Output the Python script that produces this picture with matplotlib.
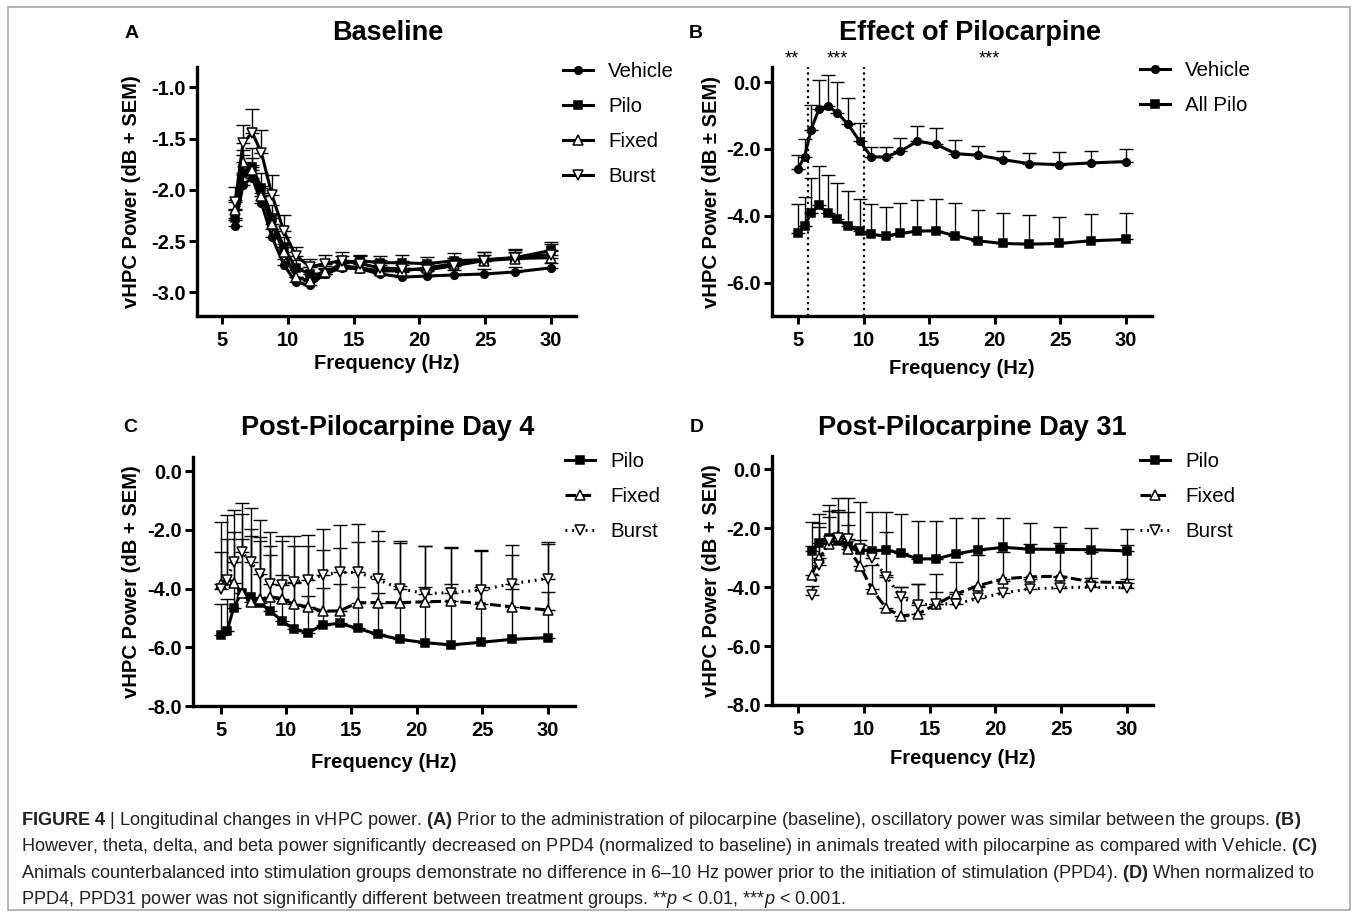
import numpy as np
import matplotlib
matplotlib.use("Agg")
import matplotlib.pyplot as plt
from matplotlib.patches import Rectangle

plt.rcParams['font.family'] = ['Liberation Sans', 'DejaVu Sans']
plt.rcParams['axes.unicode_minus'] = False
plt.rcParams['mathtext.fontset'] = 'custom'
plt.rcParams['mathtext.rm'] = 'Liberation Sans'
plt.rcParams['mathtext.bf'] = 'Liberation Sans:bold'
plt.rcParams['mathtext.it'] = 'Liberation Sans:italic'

# frequency bins (Hz)
freq = [5.0, 5.5, 6.0, 6.6, 7.3, 8.0, 8.8, 9.7, 10.6, 11.7, 12.8, 14.1,
        15.5, 17.0, 18.7, 20.6, 22.6, 24.9, 27.3, 30.0]
freq_6 = freq[2:]   # baseline and day 31 start at 6 Hz

# A - Baseline
a_vehicle = [-2.35, -1.95, -1.88, -2.13, -2.46, -2.73, -2.90, -2.93, -2.82, -2.76,
             -2.77, -2.82, -2.85, -2.84, -2.83, -2.82, -2.80, -2.76]
a_vehicle_sem = [0.06, 0.10, 0.12, 0.10, 0.08, 0.06, 0.05, 0.05, 0.05, 0.05,
                 0.05, 0.05, 0.05, 0.05, 0.05, 0.05, 0.05, 0.05]
a_pilo = [-2.27, -1.83, -1.78, -1.98, -2.27, -2.56, -2.76, -2.82, -2.82, -2.71,
          -2.69, -2.71, -2.71, -2.72, -2.69, -2.68, -2.66, -2.59]
a_pilo_sem = [0.08, 0.17, 0.19, 0.15, 0.12, 0.10, 0.08, 0.07, 0.06, 0.07,
              0.06, 0.07, 0.08, 0.07, 0.07, 0.07, 0.07, 0.08]
a_fixed = [-2.20, -1.73, -1.81, -2.06, -2.33, -2.61, -2.85, -2.89, -2.80, -2.74,
           -2.76, -2.79, -2.79, -2.76, -2.72, -2.69, -2.67, -2.66]
a_fixed_sem = [0.10, 0.12, 0.12, 0.10, 0.10, 0.08, 0.07, 0.07, 0.06, 0.06,
               0.06, 0.06, 0.06, 0.06, 0.06, 0.06, 0.06, 0.06]
a_burst = [-2.12, -1.54, -1.44, -1.64, -2.05, -2.40, -2.64, -2.75, -2.72, -2.69,
           -2.72, -2.76, -2.77, -2.78, -2.74, -2.69, -2.66, -2.63]
a_burst_sem = [0.15, 0.17, 0.23, 0.23, 0.20, 0.16, 0.08, 0.08, 0.09, 0.08,
               0.08, 0.08, 0.08, 0.08, 0.08, 0.08, 0.08, 0.10]

# B - Effect of pilocarpine
b_vehicle = [-2.59, -2.24, -1.42, -0.81, -0.73, -0.92, -1.26, -1.77, -2.24, -2.24,
             -2.07, -1.77, -1.86, -2.14, -2.19, -2.32, -2.44, -2.47, -2.42, -2.38]
b_vehicle_sem = [0.40, 0.53, 0.74, 0.86, 0.95, 0.92, 0.79, 0.55, 0.30, 0.30,
                 0.40, 0.46, 0.49, 0.42, 0.28, 0.26, 0.32, 0.37, 0.36, 0.38]
b_pilo = [-4.51, -4.31, -3.91, -3.69, -3.93, -4.11, -4.31, -4.46, -4.56, -4.61,
          -4.53, -4.46, -4.45, -4.60, -4.75, -4.83, -4.85, -4.83, -4.75, -4.71]
b_pilo_sem = [0.85, 0.88, 1.05, 1.17, 1.16, 1.10, 1.05, 0.95, 0.90, 0.88,
              0.92, 0.93, 0.95, 0.97, 0.92, 0.90, 0.86, 0.80, 0.79, 0.80]
b_bands = [5.8, 10.0]
b_stars = ["**", "***", "***"]
b_star_x = [4.5, 8.0, 19.6]

# C - Post-pilocarpine day 4
c_pilo = [-5.59, -5.45, -4.65, -4.14, -4.28, -4.48, -4.77, -5.10, -5.39, -5.50,
          -5.24, -5.19, -5.36, -5.56, -5.73, -5.84, -5.92, -5.83, -5.73, -5.67]
c_pilo_sem = [1.08, 1.11, 3.31, 3.05, 3.03, 2.83, 2.70, 2.88, 3.17, 3.31,
              3.28, 3.34, 3.57, 3.52, 3.34, 3.28, 3.34, 3.13, 3.20, 3.20]
c_fixed = [-3.83, -3.71, -3.80, -4.15, -4.45, -4.37, -4.28, -4.34, -4.54, -4.62,
           -4.77, -4.76, -4.48, -4.48, -4.48, -4.45, -4.43, -4.51, -4.62, -4.73]
c_fixed_sem = [1.09, 1.39, 0.70, 1.84, 2.24, 2.00, 1.43, 0.81, 0.72, 0.37,
               0.78, 0.92, 0.53, 0.32, 0.55, 0.50, 0.60, 0.55, 0.60, 0.60]
c_burst = [-4.00, -3.71, -3.09, -2.75, -3.09, -3.49, -3.83, -3.88, -3.77, -3.71,
           -3.54, -3.45, -3.45, -3.69, -4.00, -4.17, -4.14, -4.05, -3.83, -3.66]
c_burst_sem = [2.26, 2.22, 1.00, 1.29, 1.11, 1.23, 1.28, 1.50, 1.22, 1.16,
               0.86, 0.82, 1.02, 1.32, 1.54, 1.61, 1.52, 1.33, 0.96, 1.23]

# D - Post-pilocarpine day 31
d_pilo = [-2.77, -2.49, -2.34, -2.45, -2.60, -2.74, -2.77, -2.74, -2.85, -3.04,
          -3.04, -2.87, -2.74, -2.65, -2.71, -2.72, -2.73, -2.77]
d_pilo_sem = [0.99, 0.97, 1.13, 1.49, 1.64, 1.62, 1.33, 1.30, 1.32, 1.30,
              1.30, 1.23, 1.10, 1.01, 0.88, 0.77, 0.73, 0.73]
d_fixed = [-3.59, -3.02, -2.55, -2.26, -2.71, -3.28, -4.07, -4.72, -4.98, -4.91,
           -4.58, -4.23, -3.95, -3.72, -3.65, -3.63, -3.82, -3.85]
d_fixed_sem = [0.99, 1.05, 0.92, 0.88, 1.27, 0.71, 0.82, 1.13, 1.00, 1.01,
               1.02, 1.07, 1.05, 0.90, 1.10, 1.12, 1.00, 1.28]
d_burst = [-4.26, -3.25, -2.45, -2.34, -2.36, -2.71, -3.02, -3.64, -4.34, -4.60,
           -4.57, -4.57, -4.38, -4.20, -4.06, -4.02, -4.00, -4.02]
d_burst_sem = [0.30, 1.42, 1.05, 0.90, 0.47, 0.30, 0.30, 1.50, 0.36, 0.70,
               0.40, 0.40, 0.40, 0.40, 0.35, 0.35, 0.30, 0.30]

W, H = 1358, 916
fig = plt.figure(figsize=(W / 100, H / 100), dpi=100)


def px_axes(l, t, r, b):
    return fig.add_axes([l / W, 1 - b / H, (r - l) / W, (b - t) / H])


STYLES = {
    'Vehicle': dict(marker='o', ms=5.5, mfc='black', ls='-'),
    'Pilo': dict(marker='s', ms=5.5, mfc='black', ls='-'),
    'All Pilo': dict(marker='s', ms=5.5, mfc='black', ls='-'),
    'Fixed': dict(marker='^', ms=7.5, mfc='white', ls='-'),
    'Burst': dict(marker='v', ms=7.5, mfc='white', ls='-'),
}


def series(ax, x, y, sem, name, ls=None):
    st = dict(STYLES[name])
    if ls is not None:
        st['ls'] = ls
    ax.errorbar(x, y, yerr=[np.zeros(len(sem)), sem], fmt='none', ecolor='black',
                elinewidth=1.0, capsize=5, capthick=1.0, zorder=2)
    ax.plot(x, y, color='black', lw=2.2, mec='black', mew=1.1, label=name,
            zorder=3, **st)


def style_axes(ax, xlim, ylim, yticks, ylabel, xlab_y, ylab_x):
    ax.set_xlim(*xlim)
    ax.set_ylim(*ylim)
    for s in ['top', 'right']:
        ax.spines[s].set_visible(False)
    for s in ['left', 'bottom']:
        ax.spines[s].set_linewidth(2.4)
    ax.set_xticks([5, 10, 15, 20, 25, 30])
    ax.set_yticks(yticks)
    ax.set_yticklabels([f"{v:.1f}" for v in yticks])
    ax.tick_params(width=2.2, length=6, labelsize=14.5)
    ax.tick_params(axis='x', pad=5)
    ax.tick_params(axis='y', pad=2)
    for lab in ax.get_xticklabels() + ax.get_yticklabels():
        lab.set_fontweight('bold')
    ax.set_xlabel("Frequency (Hz)", fontsize=14.5, fontweight='bold')
    ax.set_ylabel(ylabel, fontsize=14.5, fontweight='bold')
    ax.xaxis.set_label_coords(0.5, xlab_y)
    ax.yaxis.set_label_coords(ylab_x, 0.5)


def legend(ax, x_px, y_px):
    ax.legend(loc='upper left', bbox_to_anchor=(x_px / W, 1 - y_px / H),
              bbox_transform=fig.transFigure, frameon=False, fontsize=14.8,
              handlelength=1.45, handletextpad=0.75, labelspacing=0.78,
              borderpad=0, borderaxespad=0, numpoints=1)


def heading(x_px, y_px, letter, lx_px, title):
    fig.text(x_px / W, 1 - y_px / H, title, fontsize=19.5, fontweight='bold',
             ha='center', va='center')
    fig.text(lx_px / W, 1 - y_px / H, letter, fontsize=14, fontweight='bold',
             ha='center', va='center')


# Panel A
axA = px_axes(197, 67, 576, 316)
series(axA, freq_6, a_vehicle, a_vehicle_sem, 'Vehicle')
series(axA, freq_6, a_pilo, a_pilo_sem, 'Pilo')
series(axA, freq_6, a_fixed, a_fixed_sem, 'Fixed')
series(axA, freq_6, a_burst, a_burst_sem, 'Burst')
style_axes(axA, (3.1, 31.9), (-3.23, -0.8), [-1.0, -1.5, -2.0, -2.5, -3.0],
           "vHPC Power (dB + SEM)", -0.153, -0.148)
legend(axA, 563, 62)
heading(388, 33, 'A', 132, 'Baseline')

# Panel B
axB = px_axes(772, 67, 1152, 316)
for xb in b_bands:
    axB.axvline(xb, color='black', ls=':', lw=1.6, zorder=1)
series(axB, freq, b_vehicle, b_vehicle_sem, 'Vehicle')
series(axB, freq, b_pilo, b_pilo_sem, 'All Pilo')
style_axes(axB, (3.02, 31.98), (-7.0, 0.45), [0.0, -2.0, -4.0, -6.0],
           "vHPC Power (dB ± SEM)", -0.173, -0.134)
for sx, st in zip(b_star_x, b_stars):
    axB.text(sx, 0.68, st, ha='center', va='center', fontsize=13, clip_on=False)
legend(axB, 1140, 61)
heading(970, 33, 'B', 696, 'Effect of Pilocarpine')

# Panel C
axC = px_axes(193, 457, 575, 706)
series(axC, freq, c_pilo, c_pilo_sem, 'Pilo')
series(axC, freq, c_fixed, c_fixed_sem, 'Fixed', ls=(0, (3.5, 1.4)))
series(axC, freq, c_burst, c_burst_sem, 'Burst', ls=(0, (0.6, 1.6)))
style_axes(axC, (2.89, 32.1), (-8.0, 0.48), [0.0, -2.0, -4.0, -6.0, -8.0],
           "vHPC Power (dB + SEM)", -0.189, -0.136)
legend(axC, 565, 452)
heading(388, 428, 'C', 130, 'Post-Pilocarpine Day 4')

# Panel D
axD = px_axes(772, 456, 1153, 705)
series(axD, freq_6, d_pilo, d_pilo_sem, 'Pilo')
series(axD, freq_6, d_fixed, d_fixed_sem, 'Fixed', ls=(0, (3.5, 1.4)))
series(axD, freq_6, d_burst, d_burst_sem, 'Burst', ls=(0, (0.6, 1.6)))
style_axes(axD, (2.99, 32.0), (-8.0, 0.45), [0.0, -2.0, -4.0, -6.0, -8.0],
           "vHPC Power (dB + SEM)", -0.177, -0.134)
legend(axD, 1140, 452)
heading(972, 428, 'D', 697, 'Post-Pilocarpine Day 31')

# caption
caption = [
    r"$\mathbf{FIGURE\ 4}$ | Longitudinal changes in vHPC power. $\mathbf{(A)}$ Prior to the administration of pilocarpine (baseline), oscillatory power was similar between the groups. $\mathbf{(B)}$",
    r"However, theta, delta, and beta power significantly decreased on PPD4 (normalized to baseline) in animals treated with pilocarpine as compared with Vehicle. $\mathbf{(C)}$",
    r"Animals counterbalanced into stimulation groups demonstrate no difference in 6–10 Hz power prior to the initiation of stimulation (PPD4). $\mathbf{(D)}$ When normalized to",
    r"PPD4, PPD31 power was not significantly different between treatment groups. **$\mathit{p}$ < 0.01, ***$\mathit{p}$ < 0.001.",
]
for i, line in enumerate(caption):
    fig.text(21 / W, 1 - (825 + 26.3 * i) / H, line, fontsize=13.1, color='#222222',
             ha='left', va='baseline')

fig.add_artist(Rectangle((8 / W, 1 - 910 / H), (1350 - 8) / W, (910 - 7) / H,
                         transform=fig.transFigure, fill=False,
                         edgecolor='#a8a8a8', lw=1.2))

fig.savefig("out.png", dpi=100)
